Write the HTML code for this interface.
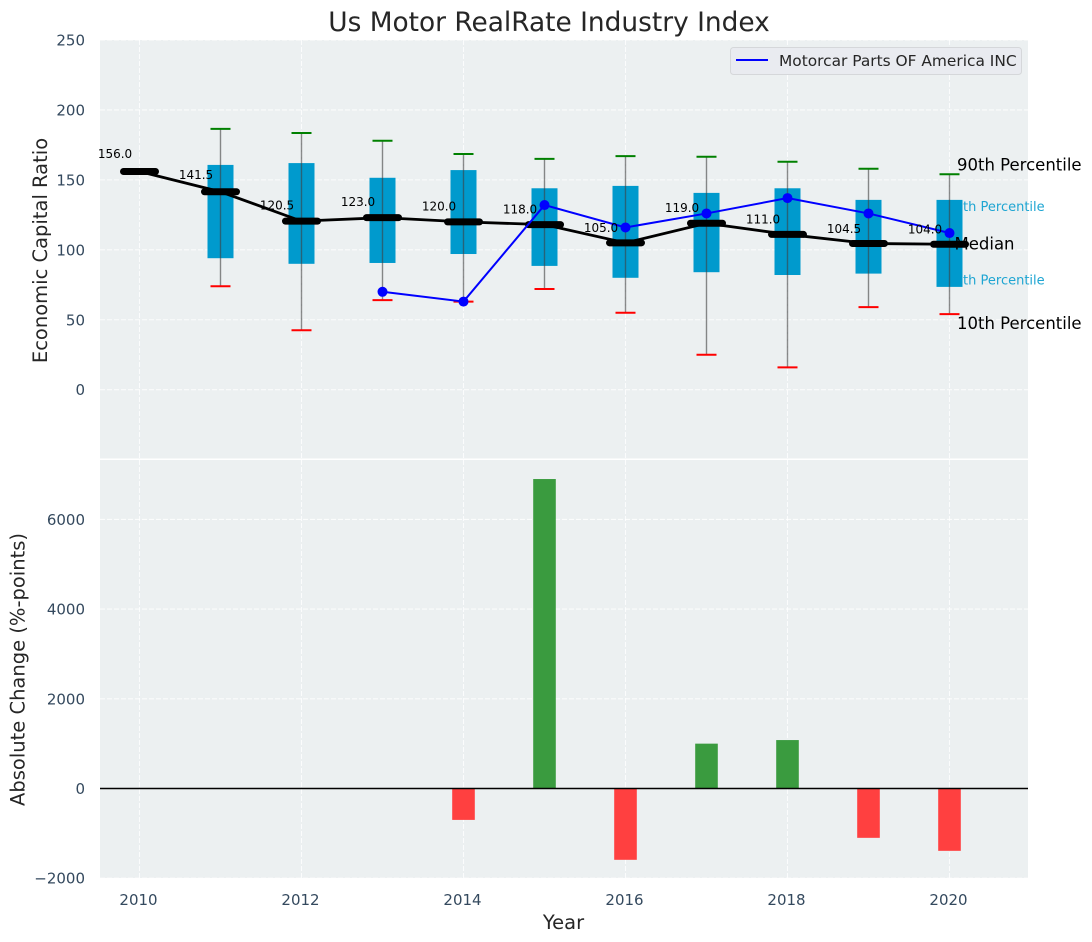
<!DOCTYPE html>
<html>
<head>
<meta charset="utf-8">
<style>
html,body{margin:0;padding:0;background:#fff;width:1092px;height:942px;overflow:hidden}
svg{display:block;font-family:"DejaVu Sans","Liberation Sans",sans-serif}
</style>
</head>
<body>
<svg id="chart" xmlns="http://www.w3.org/2000/svg" width="1092" height="942" viewBox="0 0 1092 942">
  <defs>
    <clipPath id="clip-top"><rect x="100" y="40" width="928" height="418.5"/></clipPath>
    <clipPath id="clip-bottom"><rect x="100" y="460" width="928" height="418"/></clipPath>
  </defs>
  <rect x="100" y="40" width="928" height="418.5" fill="#ecf0f1"/>
  <rect x="100" y="460" width="928" height="418" fill="#ecf0f1"/>
  <g id="grid-top" clip-path="url(#clip-top)"></g>
  <g id="grid-bottom" clip-path="url(#clip-bottom)"></g>
  <g id="annotations"></g>
  <g id="boxes"></g>
  <g id="whiskers"></g>
  <g id="median-group"></g>
  <g id="company-group"></g>
  <g id="median-labels"></g>
  <g id="bars" clip-path="url(#clip-bottom)"></g>
  <line x1="100" x2="1028" y1="788.5" y2="788.5" stroke="#000" stroke-width="1.4"/>
  <g id="ticks" font-size="15" fill="#34495e"></g>
  <text x="549" y="31" text-anchor="middle" font-size="26.4" fill="#262626">Us Motor RealRate Industry Index</text>
  <text transform="translate(47,250.5) rotate(-90)" text-anchor="middle" font-size="19.5" fill="#262626">Economic Capital Ratio</text>
  <text transform="translate(24.5,669.5) rotate(-90)" text-anchor="middle" font-size="19.5" fill="#262626">Absolute Change (%-points)</text>
  <text x="563.5" y="929" text-anchor="middle" font-size="19.5" fill="#262626">Year</text>
  <g>
    <rect x="730.5" y="47.5" width="291" height="27" rx="3" fill="#e9ebf0" stroke="#d5d7da" stroke-width="1"/>
    <line x1="736" x2="768" y1="60" y2="60" stroke="#0000ff" stroke-width="2"/>
    <text x="779" y="66" font-size="15.4" fill="#262626">Motorcar Parts OF America INC</text>
  </g>
</svg>
<script>
const years = [2011, 2012, 2013, 2014, 2015, 2016, 2017, 2018, 2019, 2020];
const p90 = [186.5, 183.5, 178, 168.5, 165, 167, 166.5, 163, 158, 154];
const p75 = [160.7, 162, 151.5, 157, 144, 145.7, 140.7, 144, 135.7, 135.7];
const p25 = [94, 90, 90.6, 97, 88.5, 80, 84, 82, 83, 73.5];
const p10 = [74, 42.5, 64, 63, 72, 55, 25, 16, 59, 54];
const medianYears = [2010, 2011, 2012, 2013, 2014, 2015, 2016, 2017, 2018, 2019, 2020];
const medians = [156, 141.5, 120.5, 123, 120, 118, 105, 119, 111, 104.5, 104];
const companyYears = [2013, 2014, 2015, 2016, 2017, 2018, 2019, 2020];
const companyValues = [70, 63, 132, 116, 126, 137, 126, 112];
const barYears = [2014, 2015, 2016, 2017, 2018, 2019, 2020];
const barValues = [-700, 6900, -1590, 1000, 1080, -1100, -1390];
const xTicks = [2010, 2012, 2014, 2016, 2018, 2020];
const topTicks = [0, 50, 100, 150, 200, 250];
const bottomTicks = [-2000, 0, 2000, 4000, 6000];

const NS = 'http://www.w3.org/2000/svg';
const xScale = v => 139.5 + (v - 2010) * 81;
const yTop = v => 389.7 - v * 1.3988;
const yBottom = v => 788.5 - v * 0.04485;

function make(tag, parent, attrs, text) {
  const el = document.createElementNS(NS, tag);
  for (const k in attrs) el.setAttribute(k, attrs[k]);
  if (text !== undefined) el.textContent = text;
  parent.appendChild(el);
  return el;
}
const gridStyle = {stroke: '#ffffff', 'stroke-width': 1.1, 'stroke-dasharray': '5 2', 'stroke-opacity': 0.8};
const gridTop = document.getElementById('grid-top');
const gridBottom = document.getElementById('grid-bottom');
const ticks = document.getElementById('ticks');

xTicks.forEach(t => {
  const a = make('line', gridTop, Object.assign({x1: xScale(t), x2: xScale(t), y1: 40, y2: 458.5}, gridStyle));
  
  
  const b = make('line', gridBottom, Object.assign({x1: xScale(t), x2: xScale(t), y1: 460, y2: 878}, gridStyle));
  
  
  const l = make('text', ticks, {x: xScale(t) - 1, y: 905, 'text-anchor': 'middle'}, String(t));
  
  
});
topTicks.forEach(t => {
  const a = make('line', gridTop, Object.assign({x1: 100, x2: 1028, y1: yTop(t), y2: yTop(t)}, gridStyle));
  
  
  const l = make('text', ticks, {x: 85, y: yTop(t) + 5.5, 'text-anchor': 'end'}, String(t));
  
  
});
bottomTicks.forEach(t => {
  const a = make('line', gridBottom, Object.assign({x1: 100, x2: 1028, y1: yBottom(t), y2: yBottom(t)}, gridStyle));
  
  
  const l = make('text', ticks, {x: 85, y: yBottom(t) + 5.5, 'text-anchor': 'end'}, String(t).replace('-', '\u2212'));
  
  
});

/* end-of-series annotations, anchored to the last year's values */
const ann = document.getElementById('annotations');
const lastI = years.length - 1;
const lastX = xScale(years[lastI]);
const a75 = make('text', ann, {x: lastX - 3, y: yTop(p75[lastI]) + 11, 'font-size': 13, fill: '#1ea5d2'}, '75th Percentile');


const a25 = make('text', ann, {x: lastX - 3, y: yTop(p25[lastI]) - 2.5, 'font-size': 13, fill: '#1ea5d2'}, '25th Percentile');


const a90 = make('text', ann, {x: lastX + 7.5, y: yTop(p90[lastI]) - 4, 'font-size': 16.5, fill: '#000'}, '90th Percentile');


const a10 = make('text', ann, {x: lastX + 7.5, y: yTop(p10[lastI]) + 15, 'font-size': 16.5, fill: '#000'}, '10th Percentile');



const boxes = document.getElementById('boxes');
const whiskers = document.getElementById('whiskers');
years.forEach((yr, i) => {
  const x = xScale(yr);
  const box = make('rect', boxes, {x: x - 13, width: 26, y: yTop(p75[i]), height: yTop(p25[i]) - yTop(p75[i]), fill: '#009acd'});
  
  
  const w = make('line', whiskers, {x1: x, x2: x, y1: yTop(p90[i]), y2: yTop(p10[i]), stroke: '#404040', 'stroke-opacity': 0.6, 'stroke-width': 1.4});
  
  
  const hi = make('line', whiskers, {x1: x - 10, x2: x + 10, y1: yTop(p90[i]), y2: yTop(p90[i]), stroke: '#008000', 'stroke-width': 2});
  
  
  const lo = make('line', whiskers, {x1: x - 10, x2: x + 10, y1: yTop(p10[i]), y2: yTop(p10[i]), stroke: '#ff0000', 'stroke-width': 2});
  
  
});

const medGroup = document.getElementById('median-group');
const medLine = make('polyline', medGroup, {points: medianYears.map((y, i) => xScale(y) + ',' + yTop(medians[i])).join(' '), fill: 'none', stroke: '#000', 'stroke-width': 2.8});


medianYears.forEach((y, i) => {
  const x = xScale(y);
  const m = make('line', medGroup, {x1: x - 16, x2: x + 16, y1: yTop(medians[i]), y2: yTop(medians[i]), stroke: '#000', 'stroke-width': 7, 'stroke-linecap': 'round'});
  
  
});
const aMed = make('text', ann, {x: lastX + 5, y: yTop(medians[medians.length - 1]) + 5.5, 'font-size': 16.5, fill: '#000'}, 'Median');


document.getElementById('chart').insertBefore(ann, document.getElementById('company-group'));
/* the 75th/25th labels sit behind the boxes, so keep them in their own earlier group */
const annBack = make('g', document.getElementById('chart'), {});


document.getElementById('chart').insertBefore(annBack, document.getElementById('boxes'));
annBack.appendChild(a75);
annBack.appendChild(a25);

const compGroup = document.getElementById('company-group');
const compLine = make('polyline', compGroup, {points: companyYears.map((y, i) => xScale(y) + ',' + yTop(companyValues[i])).join(' '), fill: 'none', stroke: '#0000ff', 'stroke-width': 2});


companyYears.forEach((y, i) => {
  const c = make('circle', compGroup, {cx: xScale(y), cy: yTop(companyValues[i]), r: 5, fill: '#0000ff'});
  
  
});

const medLabels = document.getElementById('median-labels');
medianYears.forEach((y, i) => {
  const t = make('text', medLabels, {x: xScale(y) - 24.5, y: yTop(medians[i]) - (8.3 + 0.06 * medians[i]) + 4, 'text-anchor': 'middle', 'font-size': 12, fill: '#000'}, medians[i].toFixed(1));
  
  
});

const bars = document.getElementById('bars');
barYears.forEach((y, i) => {
  const v = barValues[i];
  const top = Math.min(yBottom(v), yBottom(0));
  const r = make('rect', bars, {x: xScale(y) - 11.3, width: 22.6, y: top, height: Math.abs(yBottom(v) - yBottom(0)), fill: v >= 0 ? '#3a9b3f' : '#ff4040'});
  
  
});
</script>
</body>
</html>
